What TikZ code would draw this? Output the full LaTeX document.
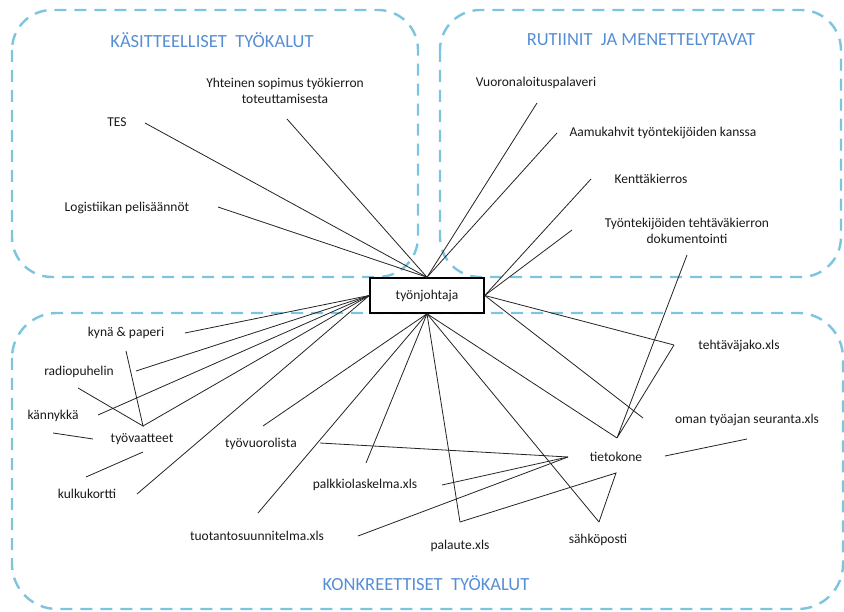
\documentclass[tikz,border=0pt]{standalone}
\usepackage{fontspec}
\setmainfont{Carlito}
\usepackage{xcolor}
\usetikzlibrary{positioning, calc}
\definecolor{zoneblue}{RGB}{125,196,222}
\definecolor{titleblue}{RGB}{86,142,212}
\definecolor{linkgrey}{RGB}{35,35,35}
\def\zoneStroke{2.4pt}
\def\linkStroke{0.8pt}
\def\boxStroke{1.5pt}

\begin{document}
\begin{tikzpicture}[x=1pt, y=-1pt,
  every node/.style={font=\fontsize{13.5}{16.5}\selectfont, text=black!90, inner sep=0pt, align=center},
  zone/.style={zoneblue, line width=\zoneStroke, dash pattern=on 12pt off 8pt, rounded corners=40pt},
  zonetitle/.style={font=\fontsize{18.5}{22}\selectfont, text=titleblue},
  link/.style={linkgrey, line width=\linkStroke},
  hub/.style={draw, fill=white, line width=\boxStroke, minimum width=114pt, minimum height=35pt}]

\useasboundingbox (0,0) rectangle (844,612);

% Dashed zones
\draw[zone] (12,10) rectangle (418,277);
\draw[zone] (440,10) rectangle (841,277);
\draw[zone, rounded corners=45pt] (12,313) rectangle (843,609);

\node[zonetitle] (tKas) at (212,40) {KÄSITTEELLISET\hspace{0.45em}TYÖKALUT};
\node[zonetitle] (tRut) at (641,40) {RUTIINIT\hspace{0.45em}JA MENETTELYTAVAT};
\node[zonetitle] (tKon) at (426,583) {KONKREETTISET\hspace{0.45em}TYÖKALUT};

% Centre box
\node[hub] (tj) at (427,295.5) {työnjohtaja};

% Labels: kasitteelliset
\node (yht) at (285,91) {Yhteinen sopimus työkierron\\toteuttamisesta};
\node (tes) at (117,122) {TES};
\node (log) at (127,208) {Logistiikan pelisäännöt};

% Labels: rutiinit
\node (vuo) at (536,83) {Vuoronaloituspalaveri};
\node (aam) at (663,133) {Aamukahvit työntekijöiden kanssa};
\node (ken) at (651,179) {Kenttäkierros};
\node (dok) at (687,231) {Työntekijöiden tehtäväkierron\\dokumentointi};

% Labels: konkreettiset
\node (kyn) at (126,333) {kynä \& paperi};
\node (rad) at (79,372) {radiopuhelin};
\node (kan) at (53,416) {kännykkä};
\node (tyv) at (142,439) {työvaatteet};
\node (kul) at (87,494) {kulkukortti};
\node (tvl) at (261,444) {työvuorolista};
\node (pal) at (365,485) {palkkiolaskelma.xls};
\node (tuo) at (257,536) {tuotantosuunnitelma.xls};
\node (pau) at (460,546) {palaute.xls};
\node (sah) at (598,540) {sähköposti};
\node (tie) at (616,457) {tietokone};
\node (teh) at (739,346) {tehtäväjako.xls};
\node (oma) at (747,420) {oman työajan seuranta.xls};

% Line ends near the labels
\coordinate (yhtS) at (287,119);
\coordinate (tesE) at (145,123);
\coordinate (logE) at (218,207);
\coordinate (vuoS) at (537,103);
\coordinate (aamW) at (557,133);
\coordinate (kenW) at (591,179);
\coordinate (dokW) at (572,230);
\coordinate (dokS) at (687,255);
\coordinate (kynE) at (185,333);
\coordinate (kynS) at (126,351);
\coordinate (radE) at (136,371);
\coordinate (radS) at (78,388);
\coordinate (kanE) at (98,415);
\coordinate (kanS) at (53,433);
\coordinate (tyvN) at (143,426);
\coordinate (tyvW) at (93,439);
\coordinate (tyvS) at (143,452);
\coordinate (kulN) at (86,477);
\coordinate (kulE) at (137,494);
\coordinate (tvlN) at (263,426);
\coordinate (tvlE) at (320,443);
\coordinate (palN) at (366,463);
\coordinate (palE) at (442,485);
\coordinate (tuoN) at (258,513);
\coordinate (tuoE) at (358,536);
\coordinate (pauN) at (460,522);
\coordinate (sahN) at (599,522);
\coordinate (tieN) at (617,438);
\coordinate (tieW) at (568,457);
\coordinate (tieE) at (665,456);
\coordinate (tieS) at (616,473);
\coordinate (tehW) at (674,345);
\coordinate (omaW) at (643,418);
\coordinate (omaS) at (747,439);

% Connectors from the centre box
\foreach \p in {yhtS,tesE,logE,vuoS,aamW}
  \draw[link] (tj.north) -- (\p);
\foreach \p in {kenW,dokW,tehW,omaW}
  \draw[link] (tj.east) -- (\p);
\foreach \p in {kynE,radE,kanE,tyvN,kulE}
  \draw[link] (tj.west) -- (\p);
\foreach \p in {tvlN,tuoN,palN,pauN,sahN,tieN}
  \draw[link] (tj.south) -- (\p);

% Connectors between tools
\draw[link] (kynS) -- (tyvN) -- (radS);
\draw[link] (kanS) -- (tyvW);
\draw[link] (kulN) -- (tyvS);
\foreach \p in {tvlE,palE,tuoE}
  \draw[link] (\p) -- (tieW);
\draw[link] (tehW) -- (tieN) -- (dokS);
\draw[link] (tieE) -- (omaS);
\draw[link] (sahN) -- (tieS) -- (pauN);

\end{tikzpicture}
\end{document}
